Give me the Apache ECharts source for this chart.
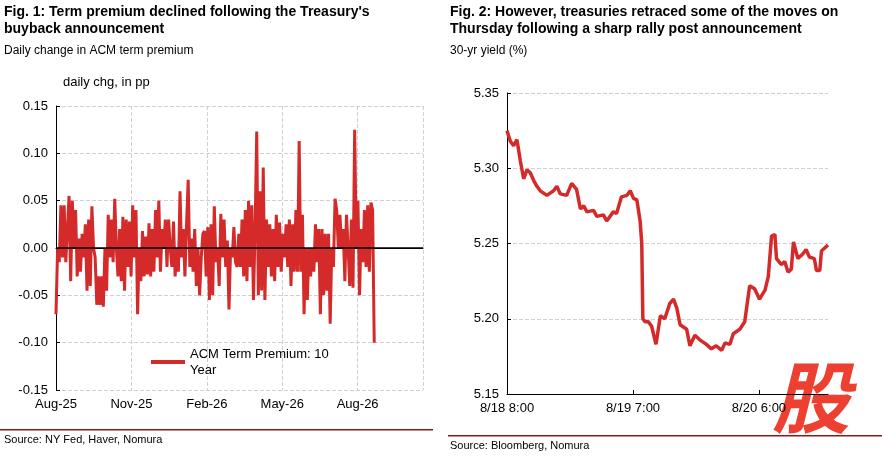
<!DOCTYPE html><html><head><meta charset="utf-8"><script src="https://cdn.jsdelivr.net/npm/echarts@6/dist/echarts.min.js"></script>
<style>html,body{margin:0;background:#fff}#c{width:882px;height:457px}</style></head><body><div id="c"></div><script>
const leftTickLabels=['Aug-25','Nov-25','Feb-26','May-26','Aug-26'];
const acmValues=[-0.07,0.0,-0.015,0.045,-0.01,0.045,-0.015,0.02,0.055,-0.035,0.05,0.0,0.04,-0.03,0.01,-0.025,0.015,-0.01,0.025,-0.045,0.03,-0.04,0.044,0.0,-0.01,
-0.06,-0.03,-0.06,-0.03,-0.062,0.0,-0.045,0.035,-0.01,0.03,-0.015,0.052,0.0,-0.03,0.02,-0.035,0.033,-0.045,0.03,-0.02,0.028,-0.03,0.045,-0.01,0.04,-0.07,0.0,
-0.035,0.018,-0.03,0.012,-0.028,0.026,-0.03,0.02,-0.025,0.04,-0.01,0.05,-0.025,0.02,0.0,0.03,-0.02,0.03,0.0,-0.02,0.028,-0.03,0.0,-0.025,
0.06,-0.01,0.02,-0.03,0.025,0.072,-0.02,0.01,-0.025,0.02,-0.04,0.0,-0.05,-0.01,0.015,0.018,-0.03,
0.022,-0.055,0.025,-0.05,0.044,-0.015,0.0,-0.04,0.036,-0.01,0.03,-0.02,0.008,-0.065,0.0,-0.01,0.022,-0.015,-0.02,0.015,-0.02,
0.03,-0.03,0.04,-0.035,0.05,-0.02,0.045,-0.055,0.02,0.123,-0.05,0.06,-0.045,0.085,-0.055,0.03,-0.02,0.025,-0.03,0.02,-0.035,0.035,-0.02,0.027,-0.025,
0.015,-0.01,0.025,-0.02,0.03,-0.04,0.025,-0.025,0.04,-0.025,0.113,-0.025,0.035,-0.07,0.0,-0.055,0.0,-0.03,0.0,-0.025,0.025,-0.015,0.02,-0.07,0.02,-0.05,0.015,-0.045,0.015,-0.08,0.0,-0.02,0.052,0.04,0.0,0.035,0.0,0.02,-0.035,0.035,0.0,-0.04,0.03,-0.042,0.125,0.0,0.05,-0.05,0.02,-0.015,0.04,-0.02,0.045,-0.025,0.048,0.04,-0.1];
const acmEndMonth=12.66; // months after Aug-25 of last observation
const rightTickLabels=['8/18 8:00','8/19 7:00','8/20 6:00'];
const yieldHours=[0,0.61,1.21,1.82,2.43,3.04,3.64,4.25,4.86,5.46,6.07,7.28,8.5,9.1,9.71,10.9,11.8,12.7,13.4,14.0,14.6,15.8,16.4,17.6,18.2,19.4,20.0,20.9,21.9,22.5,23.1,23.7,24.3,24.6,24.8,25.2,25.8,26.4,27.2,28.0,28.8,29.7,30.4,31.0,31.6,32.8,33.4,34.3,35.2,36.4,37.3,38.2,39.2,39.8,40.7,41.3,42.5,43.4,44.3,45.2,46.1,47.1,47.7,48.3,48.9,49.2,50.1,50.7,51.3,51.9,52.3,53.1,54.0,54.6,55.2,56.1,56.5,57.1,57.4,58.0,58.6];
const yieldValues=[5.325,5.318,5.315,5.319,5.305,5.293,5.299,5.297,5.292,5.288,5.285,5.282,5.285,5.288,5.283,5.282,5.29,5.286,5.273,5.275,5.271,5.272,5.268,5.269,5.265,5.271,5.270,5.281,5.282,5.285,5.280,5.279,5.265,5.25,5.20,5.198,5.198,5.195,5.183,5.202,5.200,5.210,5.213,5.207,5.196,5.193,5.182,5.189,5.186,5.183,5.180,5.182,5.179,5.184,5.183,5.190,5.193,5.198,5.222,5.220,5.213,5.219,5.228,5.255,5.256,5.240,5.236,5.238,5.231,5.233,5.251,5.240,5.243,5.246,5.241,5.240,5.232,5.232,5.245,5.247,5.249];
const n=acmValues.length;
const acmData=acmValues.map((v,i)=>[i*acmEndMonth/(n-1),v]);
const yieldData=yieldHours.map((h,i)=>[h,yieldValues[i]]);
const red='#d42a2a', F='Liberation Sans, Arial, sans-serif';
const dash={show:true,lineStyle:{type:'dashed',color:'#d0d0d0'}};
const chart=echarts.init(document.getElementById('c'));
chart.setOption({animation:false,textStyle:{fontFamily:F},
grid:[{left:56,right:459,top:106,bottom:67},{left:507,right:54,top:93,bottom:63}],
xAxis:[{gridIndex:0,type:'value',min:0,max:14.6,interval:3,axisLine:{lineStyle:{color:'#000'}},axisTick:{show:false},splitLine:dash,
axisLabel:{color:'#000',fontSize:13,formatter:v=>leftTickLabels[v/3]||'',showMaxLabel:false}},
{gridIndex:1,type:'value',min:0,max:58.6,interval:23,axisLine:{lineStyle:{color:'#000'}},axisTick:{show:true,inside:true,length:4,lineStyle:{color:'#000'}},splitLine:{show:false},
axisLabel:{color:'#000',fontSize:13,formatter:v=>rightTickLabels[v/23]||'',showMaxLabel:false}}],
yAxis:[{gridIndex:0,type:'value',min:-0.15,max:0.15,interval:0.05,axisLine:{show:true,lineStyle:{color:'#000'}},axisTick:{show:true,inside:true,length:4,lineStyle:{color:'#000'}},splitLine:dash,
axisLabel:{color:'#000',fontSize:13,formatter:v=>v.toFixed(2)}},
{gridIndex:1,type:'value',min:5.15,max:5.35,interval:0.05,axisLine:{show:true,lineStyle:{color:'#000'}},axisTick:{show:true,inside:true,length:4,lineStyle:{color:'#000'}},splitLine:dash,
axisLabel:{color:'#000',fontSize:13,formatter:v=>v.toFixed(2)}}],
legend:{left:146,top:341,itemWidth:34,itemHeight:4,icon:'rect',data:['ACM Term Premium: 10\nYear'],textStyle:{fontSize:13,color:'#000',lineHeight:16}},
series:[{name:'ACM Term Premium: 10\nYear',type:'line',xAxisIndex:0,yAxisIndex:0,data:acmData,showSymbol:false,lineStyle:{color:red,width:3},itemStyle:{color:red},
markLine:{silent:true,symbol:'none',label:{show:false},lineStyle:{color:'#000',type:'solid',width:1.5},data:[{yAxis:0}]}},
{type:'line',xAxisIndex:1,yAxisIndex:1,data:yieldData,showSymbol:false,lineStyle:{color:red,width:3.5}}],
graphic:[
{type:'text',left:4,top:4,style:{text:"Fig. 1: Term premium declined following the Treasury's\nbuyback announcement",font:'bold 14px '+F,lineHeight:17,fill:'#000'}},
{type:'text',left:4,top:45,style:{text:'Daily change in ACM term premium',font:'12px '+F,fill:'#000'}},
{type:'text',left:63,top:76,style:{text:'daily chg, in pp',font:'13px '+F,fill:'#000'}},
{type:'rect',shape:{x:0,y:429,width:433,height:1.5},style:{fill:'#8b1a1a'}},
{type:'text',left:4,top:434,style:{text:'Source: NY Fed, Haver, Nomura',font:'11px '+F,fill:'#000'}},
{type:'text',left:450,top:4,style:{text:'Fig. 2: However, treasuries retraced some of the moves on\nThursday following a sharp rally post announcement',font:'bold 14px '+F,lineHeight:17,fill:'#000'}},
{type:'text',left:450,top:45,style:{text:'30-yr yield (%)',font:'12px '+F,fill:'#000'}},
{type:'rect',shape:{x:448,y:435,width:434,height:1.5},style:{fill:'#8b1a1a'}},
{type:'text',left:450,top:440,style:{text:'Source: Bloomberg, Nomura',font:'11px '+F,fill:'#000'}},
{type:'text',left:772,top:358,style:{text:'股',font:'italic bold 78px "Noto Sans CJK SC"',fill:'#ee4030'}}
]});
</script></body></html>
